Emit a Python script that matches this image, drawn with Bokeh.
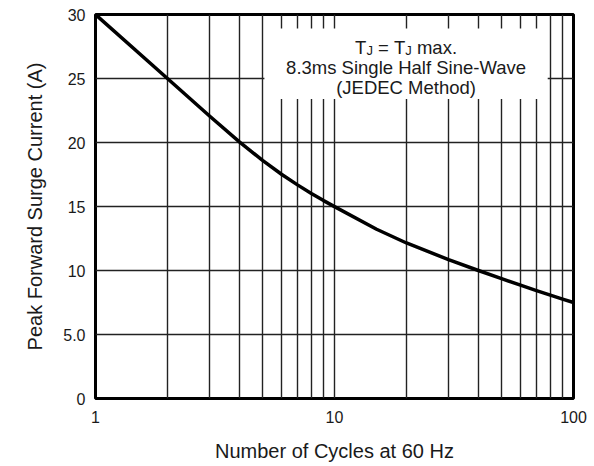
import math
from bokeh.plotting import figure
from bokeh.models import FixedTicker, PrintfTickFormatter, BoxAnnotation, Label
from bokeh.embed import file_html
from bokeh.resources import INLINE

# ---- data ----
cycles = [1, 2, 3, 4, 5, 6, 7, 8, 9, 10, 15, 20, 30, 40, 50, 60, 70, 80, 90, 100]
current = [30.0, 25.0, 22.07, 20.05, 18.6, 17.52, 16.69, 16.02, 15.46, 14.99,
           13.22, 12.15, 10.85, 10.0, 9.36, 8.85, 8.43, 8.07, 7.76, 7.5]
x_tick_values = [1, 10, 100]
x_grid_values = [1, 2, 3, 4, 5, 6, 7, 8, 9, 10, 20, 30, 40, 50, 60, 70, 80, 90, 100]
y_tick_values = [0, 5, 10, 15, 20, 25, 30]
y_tick_labels = {0: "0", 5: "5.0", 10: "10", 15: "15", 20: "20", 25: "25", 30: "30"}
x_label = "Number of Cycles at 60 Hz"
y_label = "Peak Forward Surge Current (A)"
note_line1 = ["T", "J", "=", "T", "J", "max."]
note_line2 = "8.3ms Single Half Sine-Wave"
note_line3 = "(JEDEC Method)"

FONT = "Liberation Sans"
TXT = "#1a1a1a"

p = figure(width=594, height=466, x_axis_type="log", x_range=(1, 100), y_range=(0, 30),
           output_backend="svg", toolbar_location=None,
           min_border_left=95, min_border_right=21, min_border_top=14, min_border_bottom=68)
p.background_fill_color = "white"
p.border_fill_color = "white"
p.outline_line_color = "black"
p.outline_line_width = 3

# axes
p.xaxis.ticker = FixedTicker(ticks=x_tick_values)
p.xaxis.formatter = PrintfTickFormatter(format="%d")
p.yaxis.ticker = FixedTicker(ticks=y_tick_values)
p.yaxis.major_label_overrides = y_tick_labels
for ax in (p.xaxis[0], p.yaxis[0]):
    ax.axis_line_color = None
    ax.major_tick_in = 0
    ax.major_tick_out = 0
    ax.minor_tick_in = 0
    ax.minor_tick_out = 0
    ax.major_label_text_font = FONT
    ax.major_label_text_font_size = "16px"
    ax.major_label_text_color = TXT
    ax.axis_label_text_font = FONT
    ax.axis_label_text_font_size = "20px"
    ax.axis_label_text_font_style = "normal"
    ax.axis_label_text_color = TXT
p.xaxis.axis_label = x_label
p.yaxis.axis_label = y_label
p.xaxis.major_label_standoff = 12
p.yaxis.major_label_standoff = 10
p.xaxis.axis_label_standoff = 14
p.yaxis.axis_label_standoff = 14

# grid
p.xgrid.ticker = FixedTicker(ticks=x_grid_values)
p.ygrid.ticker = FixedTicker(ticks=y_tick_values)
for g in (p.xgrid[0], p.ygrid[0]):
    g.grid_line_color = "#222222"
    g.grid_line_width = 1.4

# annotation box (covers grid)
box_l, box_r, box_b, box_t = 5.09, 78.0, 23.4, 28.9
p.add_layout(BoxAnnotation(left=box_l, right=box_r, bottom=box_b, top=box_t,
                           fill_color="white", fill_alpha=1.0, line_color=None))
xc = math.sqrt(box_l * box_r)

# curve
p.line(cycles, current, line_color="black", line_width=3.5, line_join="round")

# annotation text
big = 18.5
small = 13
sp = 0.278 * big
w = {"T": 0.611 * big, "J": 0.500 * small, "=": 0.584 * big, "max.": 2.167 * big}
gaps = [0, 0, sp, sp, 0, sp]          # space before each piece
sizes = [big, small, big, big, small, big]
drop = [0, 0.25, 0, 0, 0.25, 0]       # subscript drop (data units)
xs = []
pos = 0.0
for t, g in zip(note_line1, gaps):
    pos += g
    xs.append(pos)
    pos += w[t]
start = -pos / 2
line1_y = 27.42
for t, xo, fs, d in zip(note_line1, xs, sizes, drop):
    p.add_layout(Label(x=xc, y=line1_y - d, x_offset=start + xo, text=t, text_font=FONT,
                       text_font_size=f"{fs}px", text_color=TXT,
                       text_align="left", text_baseline="alphabetic"))
for t, yy in ((note_line2, 25.86), (note_line3, 24.30)):
    p.add_layout(Label(x=xc, y=yy, text=t, text_font=FONT, text_font_size=f"{big}px",
                       text_color=TXT, text_align="center", text_baseline="alphabetic"))

open("out.html", "w").write(file_html(p, INLINE))
